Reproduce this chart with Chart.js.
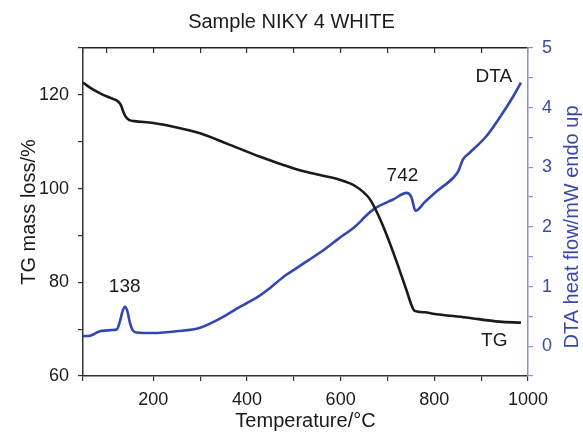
<!DOCTYPE html>
<html>
<head>
<meta charset="utf-8">
<script src="https://cdn.jsdelivr.net/npm/chart.js@4.4.1/dist/chart.umd.min.js"></script>
<style>
  html, body { margin: 0; padding: 0; background: #ffffff; }
  canvas { display: block; }
</style>
</head>
<body>
<canvas id="c" width="583" height="435"></canvas>
<script>
// ---- Data ----
const chartTitle = "Sample NIKY 4 WHITE";
const xTitle = "Temperature/°C";
const leftTitle = "TG mass loss/%";
const rightTitle = "DTA heat flow/mW endo up";

// TG curve (left axis, %)
const tgTemp = [50, 72, 93, 110, 125, 131, 136, 142, 149, 160, 200, 243, 300, 357, 428, 513, 560, 598, 620, 630, 648, 662, 680, 701, 723, 741, 751, 758, 780, 797, 868, 939, 985];
const tgMass = [122.6, 121.1, 120.0, 119.3, 118.6, 117.8, 116.4, 115.2, 114.6, 114.4, 114.0, 113.2, 111.8, 109.6, 106.8, 103.9, 102.8, 101.9, 101.1, 100.6, 99.3, 97.8, 94.4, 89.4, 83.4, 78.2, 75.2, 73.9, 73.6, 73.3, 72.5, 71.6, 71.4];

// DTA curve (right axis, mW)
const dtaTemp = [50, 61, 86, 110, 122, 129, 135, 140, 145, 150, 156, 165, 200, 250, 300, 349, 374, 399, 424, 450, 481, 506, 531, 556, 595, 630, 641, 652, 673, 701, 712, 741, 751, 760, 780, 804, 840, 851, 861, 875, 911, 946, 967, 985];
const dtaFlow = [0.17, 0.17, 0.25, 0.27, 0.28, 0.42, 0.6, 0.66, 0.58, 0.4, 0.27, 0.23, 0.22, 0.25, 0.31, 0.49, 0.61, 0.72, 0.83, 0.98, 1.18, 1.31, 1.44, 1.57, 1.80, 2.0, 2.08, 2.17, 2.31, 2.42, 2.46, 2.57, 2.5, 2.27, 2.42, 2.59, 2.82, 2.93, 3.13, 3.24, 3.52, 3.91, 4.17, 4.42];

// Text notes on the plot: text, temperature, value, axis
const noteText = ["138", "742", "DTA", "TG"];
const noteTemp = [139, 732, 927, 928];
const noteValue = [1.0, 2.85, 4.52, 67.5];
const noteAxis = ["y2", "y2", "y2", "y"];

// Axis ranges / ticks
const xRange = [50, 1000];
const xStep = 100;
const yRange = [60, 130];
const yStep = 10;
const y2Range = [-0.5, 5];
const y2Step = 0.5;

// ---- Styling ----
const FONT = "'Liberation Sans', Arial, Helvetica, sans-serif";
const BLACK = "#1a1a1a";
const BLUE = "#3446b2";
const BLUE_AXIS = "#8890cf";
const BLUE_TEXT = "#3a49a8";

const notesPlugin = {
  id: 'notes',
  afterDatasetsDraw(chart) {
    const ctx = chart.ctx;
    ctx.save();
    ctx.font = "19px " + FONT;
    ctx.fillStyle = BLACK;
    ctx.textAlign = 'center';
    ctx.textBaseline = 'middle';
    for (let i = 0; i < noteText.length; i++) {
      const px = chart.scales.x.getPixelForValue(noteTemp[i]);
      const py = chart.scales[noteAxis[i]].getPixelForValue(noteValue[i]);
      ctx.fillText(noteText[i], px, py);
    }
    ctx.restore();
  },
  afterDraw(chart) {
    // right axis title, reading bottom-to-top
    const ctx = chart.ctx;
    const a = chart.chartArea;
    ctx.save();
    ctx.font = "20px " + FONT;
    ctx.fillStyle = BLUE_TEXT;
    ctx.textAlign = 'center';
    ctx.textBaseline = 'middle';
    ctx.translate(chart.width - 11, (a.top + a.bottom) / 2 + 15);
    ctx.rotate(-Math.PI / 2);
    ctx.fillText(rightTitle, 0, 0);
    ctx.restore();
  }
};

new Chart(document.getElementById('c'), {
  type: 'line',
  data: {
    datasets: [
      {
        label: 'TG',
        data: tgTemp.map((t, i) => ({x: t, y: tgMass[i]})),
        yAxisID: 'y',
        borderColor: BLACK,
        borderWidth: 2.6,
        pointRadius: 0,
        cubicInterpolationMode: 'monotone',
        fill: false
      },
      {
        label: 'DTA',
        data: dtaTemp.map((t, i) => ({x: t, y: dtaFlow[i]})),
        yAxisID: 'y2',
        borderColor: BLUE,
        borderWidth: 2.6,
        pointRadius: 0,
        cubicInterpolationMode: 'monotone',
        fill: false
      }
    ]
  },
  options: {
    responsive: false,
    animation: false,
    layout: { padding: 0 },
    plugins: {
      legend: { display: false },
      tooltip: { enabled: false },
      title: {
        display: true,
        text: chartTitle,
        color: BLACK,
        font: { family: FONT, size: 20, weight: 'normal' },
        padding: { top: 10, bottom: 14 }
      }
    },
    scales: {
      x: {
        type: 'linear',
        position: 'bottom',
        min: xRange[0], max: xRange[1],
        afterFit(s) { s.height = 59; },
        border: { display: true, color: '#333', width: 1.5 },
        grid: { drawOnChartArea: false, drawTicks: true, tickLength: 5, color: '#333', lineWidth: 1.2 },
        ticks: {
          stepSize: xStep, autoSkip: false, maxRotation: 0, padding: 8,
          color: BLACK, font: { family: FONT, size: 18 },
          callback: v => (v % 200 === 0 ? v : '')
        },
        title: {
          display: true, text: xTitle, color: BLACK,
          font: { family: FONT, size: 20 }, padding: { top: 0, bottom: 2 }
        }
      },
      x2: {
        type: 'linear',
        position: 'top',
        min: xRange[0], max: xRange[1],
        afterFit(s) { s.height = 0; },
        border: { display: true, color: '#222', width: 1.5 },
        grid: { drawOnChartArea: false, drawTicks: true, tickLength: -5, color: '#333', lineWidth: 1.2 },
        ticks: { stepSize: xStep, autoSkip: false, display: false }
      },
      y: {
        type: 'linear',
        position: 'left',
        min: yRange[0], max: yRange[1],
        afterFit(s) { s.width = 83; },
        border: { display: true, color: '#333', width: 1.5 },
        grid: { drawOnChartArea: false, drawTicks: true, tickLength: 5, color: '#333', lineWidth: 1.2 },
        ticks: {
          stepSize: yStep, autoSkip: false, padding: 9,
          color: BLACK, font: { family: FONT, size: 18 },
          callback: v => (v % 20 === 0 ? v : '')
        },
        title: {
          display: true, text: leftTitle, color: BLACK,
          font: { family: FONT, size: 20 }, padding: { top: 17, bottom: 0 }
        }
      },
      y2: {
        type: 'linear',
        position: 'right',
        min: y2Range[0], max: y2Range[1],
        afterFit(s) { s.width = 55; },
        border: { display: true, color: BLUE_AXIS, width: 1.5 },
        grid: { drawOnChartArea: false, drawTicks: true, tickLength: 5, color: BLUE_AXIS, lineWidth: 1.2 },
        ticks: {
          stepSize: y2Step, autoSkip: false, padding: 9,
          color: BLUE_TEXT, font: { family: FONT, size: 18 },
          callback: v => (Number.isInteger(v) && v >= 0 ? v : '')
        }
      }
    }
  },
  plugins: [notesPlugin]
});
</script>
</body>
</html>
